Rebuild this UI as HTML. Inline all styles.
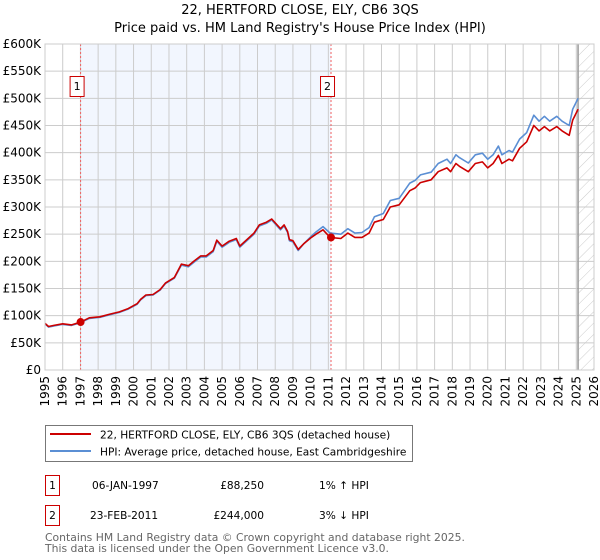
<!DOCTYPE html>
<html><head><meta charset="utf-8">
<style>
body{margin:0;background:#fff;font-family:"DejaVu Sans","Liberation Sans",sans-serif;}
#wrap{position:relative;width:600px;height:560px;overflow:hidden;}
svg text{font-family:"DejaVu Sans","Liberation Sans",sans-serif;}
</style></head>
<body>
<div id="wrap">
<svg id="chart" width="600" height="560">
<defs>
<pattern id="hatch" patternUnits="userSpaceOnUse" width="8" height="8" patternTransform="rotate(45)">
<line x1="0" y1="0" x2="0" y2="8" stroke="#ccc" stroke-width="1"/>
</pattern>
</defs>
<text x="300" y="14" text-anchor="middle" font-size="13">22, HERTFORD CLOSE, ELY, CB6 3QS</text>
<text x="300" y="32" text-anchor="middle" font-size="13">Price paid vs. HM Land Registry's House Price Index (HPI)</text>
<g id="plot"></g>
</svg>
<svg style="position:absolute;left:0;top:0" width="600" height="560">
<rect x="45.5" y="425.5" width="367" height="36" fill="#fff" stroke="#777"/>
<line x1="50" y1="434" x2="91" y2="434" stroke="#cc0000" stroke-width="2"/>
<text x="100" y="438.5" font-size="10.6">22, HERTFORD CLOSE, ELY, CB6 3QS (detached house)</text>
<line x1="50" y1="451" x2="91" y2="451" stroke="#5b8fd4" stroke-width="2"/>
<text x="100" y="455.5" font-size="10.6">HPI: Average price, detached house, East Cambridgeshire</text>
<rect x="45.5" y="475.5" width="14" height="20" fill="#fff" stroke="#cc0000"/>
<text x="52.5" y="489" font-size="10.6" text-anchor="middle">1</text>
<text x="92" y="489" font-size="10.6">06-JAN-1997</text>
<text x="264" y="489" font-size="10.6" text-anchor="end">£88,250</text>
<text x="319" y="489" font-size="10.6">1% ↑ HPI</text>
<rect x="45.5" y="505.5" width="14" height="20" fill="#fff" stroke="#cc0000"/>
<text x="52.5" y="519" font-size="10.6" text-anchor="middle">2</text>
<text x="90" y="519" font-size="10.6">23-FEB-2011</text>
<text x="264" y="519" font-size="10.6" text-anchor="end">£244,000</text>
<text x="319" y="519" font-size="10.6">3% ↓ HPI</text>
<text x="45" y="541" font-size="10.8" fill="#666">Contains HM Land Registry data © Crown copyright and database right 2025.</text>
<text x="45" y="552" font-size="10.8" fill="#666">This data is licensed under the Open Government Licence v3.0.</text>
</svg>
</div>
<script>
const yTicks = [0,50,100,150,200,250,300,350,400,450,500,550,600];
const yTickLabels = ["£0","£50K","£100K","£150K","£200K","£250K","£300K","£350K","£400K","£450K","£500K","£550K","£600K"];
const xTicks = [1995,1996,1997,1998,1999,2000,2001,2002,2003,2004,2005,2006,2007,2008,2009,2010,2011,2012,2013,2014,2015,2016,2017,2018,2019,2020,2021,2022,2023,2024,2025,2026];
const dates = [1995.0,1995.2,1995.5,1996.0,1996.5,1997.0,1997.5,1998.1,1998.7,1999.2,1999.7,2000.2,2000.4,2000.7,2001.1,2001.5,2001.8,2002.3,2002.7,2003.1,2003.4,2003.8,2004.1,2004.5,2004.7,2005.0,2005.4,2005.8,2006.0,2006.4,2006.8,2007.1,2007.5,2007.8,2008.3,2008.5,2008.7,2008.8,2009.0,2009.3,2009.6,2010.0,2010.3,2010.7,2011.1,2011.7,2012.1,2012.5,2012.9,2013.3,2013.6,2014.1,2014.5,2015.0,2015.6,2015.9,2016.2,2016.8,2017.2,2017.7,2017.9,2018.2,2018.4,2018.9,2019.3,2019.7,2020.0,2020.3,2020.6,2020.8,2021.2,2021.4,2021.8,2022.2,2022.6,2022.9,2023.2,2023.5,2023.9,2024.2,2024.6,2024.8,2025.1];
const priceSeries = [86,80,82,85,83,88,96,98,103,107,113,122,130,138,139,148,160,170,195,192,200,210,210,220,239,228,237,242,228,240,252,267,272,278,260,267,255,240,238,222,232,243,250,258,244,242,252,244,244,252,272,277,300,304,330,335,345,350,365,372,365,380,375,365,380,383,372,380,395,380,388,385,408,420,450,440,448,440,448,440,432,460,480];
const hpiSeries = [85,79,81,84,82,87,95,97,102,106,112,121,129,137,138,147,159,169,193,190,198,208,208,218,237,226,235,240,226,238,250,265,270,276,258,265,253,238,236,220,232,245,254,264,252,250,260,252,253,262,282,288,312,316,344,349,359,364,380,388,380,396,391,381,396,399,388,396,412,396,404,401,425,437,469,458,467,458,467,458,450,480,500];
const sales = [[1997.01, 88.25, "1"], [2011.15, 244, "2"]];

const NS = "http://www.w3.org/2000/svg";
const L = 45, R = 594, T = 44, B = 370;
const xs = d => L + (d - 1995) / 31 * (R - L);
const ys = v => B - v / 600 * (B - T);
const g = document.getElementById('plot');
function mk(tag, attrs, parent) {
  const e = document.createElementNS(NS, tag);
  for (const k in attrs) e.setAttribute(k, attrs[k]);
  (parent || g).appendChild(e);
  return e;
}
let sh = mk('rect', {x: xs(sales[0][0]), y: T, width: xs(sales[1][0]) - xs(sales[0][0]), height: B - T, fill: '#eef3fd', opacity: 0.75});


let ht = mk('rect', {x: xs(2025.1), y: T, width: R - xs(2025.1), height: B - T, fill: 'url(#hatch)'});


yTicks.forEach((v, i) => {
  const ln = mk('line', {x1: L, x2: R, y1: ys(v), y2: ys(v), stroke: '#ccc', 'stroke-width': 1});
  
  
  const t = mk('text', {x: L - 4, y: ys(v) + 4, 'text-anchor': 'end', 'font-size': 12});
  t.textContent = yTickLabels[i];
  
  
});
xTicks.forEach(yr => {
  const ln = mk('line', {x1: xs(yr), x2: xs(yr), y1: T, y2: B, stroke: '#ccc', 'stroke-width': 1});
  
  
  const t = mk('text', {x: 0, y: 0, 'text-anchor': 'end', 'font-size': 12, transform: `translate(${xs(yr) + 4},${B + 6}) rotate(-90)`});
  t.textContent = yr;
  
  
});
let vl = mk('line', {x1: xs(2025.1), x2: xs(2025.1), y1: T, y2: B, stroke: '#999', 'stroke-width': 1.5});


sales.forEach(s => {
  const ln = mk('line', {x1: xs(s[0]), x2: xs(s[0]), y1: T, y2: B, stroke: '#f06060', 'stroke-width': 1, 'stroke-dasharray': '2,2'});
  
  
  const bx = mk('rect', {x: xs(s[0]) - 10.5, y: 76.5, width: 14, height: 20, fill: '#fff', stroke: '#cc0000'});
  
  
  const t = mk('text', {x: xs(s[0]) - 3.5, y: 90, 'text-anchor': 'middle', 'font-size': 11});
  t.textContent = s[2];
  
  
});
function path(arr, color, name) {
  const d = dates.map((x, i) => (i ? 'L' : 'M') + xs(x).toFixed(1) + ',' + ys(arr[i]).toFixed(1)).join('');
  const p = mk('path', {d: d, fill: 'none', stroke: color, 'stroke-width': 1.6, 'stroke-linejoin': 'round'});
  
  
}
path(hpiSeries, '#5b8fd4', 'hpi-line');
path(priceSeries, '#cc0000', 'price-paid-line');
sales.forEach(s => {
  const c = mk('circle', {cx: xs(s[0]), cy: ys(s[1]), r: 4, fill: '#cc0000'});
  
  
});
let fr = mk('rect', {x: L, y: T, width: R - L, height: B - T, fill: 'none', stroke: '#ccc'});


</script>
</body></html>
